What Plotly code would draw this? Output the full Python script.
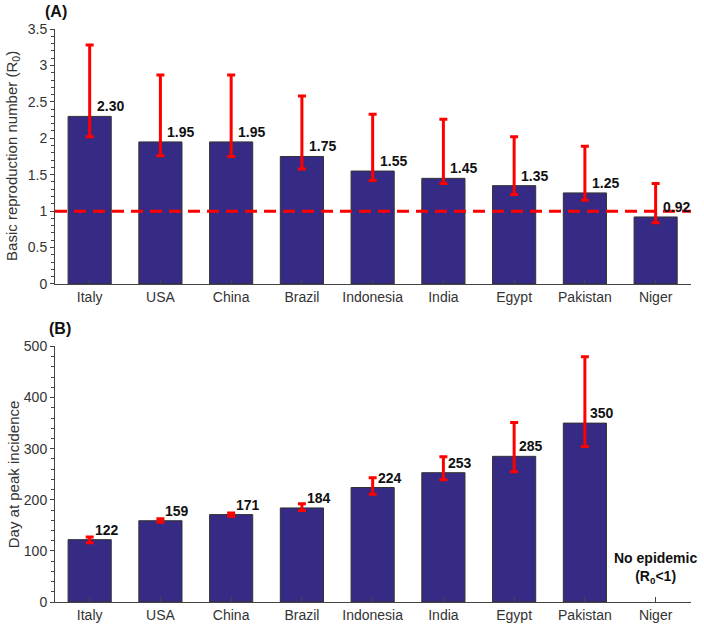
import plotly.graph_objects as go
from plotly.subplots import make_subplots

countries = ["Italy", "USA", "China", "Brazil", "Indonesia", "India", "Egypt", "Pakistan", "Niger"]

r0_values = [2.30, 1.95, 1.95, 1.75, 1.55, 1.45, 1.35, 1.25, 0.92]
r0_lower = [2.02, 1.76, 1.75, 1.58, 1.42, 1.38, 1.23, 1.15, 0.84]
r0_upper = [3.28, 2.87, 2.87, 2.58, 2.33, 2.26, 2.02, 1.89, 1.38]
r0_threshold = 1.0

peak_day = [122, 159, 171, 184, 224, 253, 285, 350, None]
peak_lower = [116, 156, 168, 179, 211, 239, 255, 304, None]
peak_upper = [127, 163, 174, 192, 243, 284, 351, 480, None]

r0_ticks = [0, 0.5, 1, 1.5, 2, 2.5, 3, 3.5]
peak_ticks = [0, 100, 200, 300, 400, 500]

BAR = "#352b84"
RED = "#ff0000"
FONT = "Liberation Sans, Arial, sans-serif"
AX = "#444444"
TXT = "#333333"

fig = make_subplots(rows=2, cols=1, vertical_spacing=0.11)

def diff(a, b):
    return [None if (x is None or y is None) else x - y for x, y in zip(a, b)]

fig.add_trace(go.Bar(
    x=countries, y=r0_values, width=0.61,
    marker=dict(color=BAR, line=dict(color="#333333", width=1)),
    error_y=dict(type="data", symmetric=False,
                 array=diff(r0_upper, r0_values), arrayminus=diff(r0_values, r0_lower),
                 color=RED, thickness=3, width=4),
    showlegend=False, hoverinfo="skip"), row=1, col=1)

fig.add_trace(go.Bar(
    x=countries, y=peak_day, width=0.61,
    marker=dict(color=BAR, line=dict(color="#333333", width=1)),
    error_y=dict(type="data", symmetric=False,
                 array=diff(peak_upper, peak_day), arrayminus=diff(peak_day, peak_lower),
                 color=RED, thickness=3, width=4),
    showlegend=False, hoverinfo="skip"), row=2, col=1)

# threshold line R0 = 1
fig.add_shape(type="line", xref="x domain", yref="y", x0=0, x1=1,
              y0=r0_threshold, y1=r0_threshold,
              line=dict(color=RED, width=3, dash="12px,7px"), layer="above")

annotations = []
for c, v in zip(countries, r0_values):
    annotations.append(dict(x=c, y=v, xref="x", yref="y", text=f"<b>{v:.2f}</b>",
                            showarrow=False, xanchor="left", yanchor="bottom",
                            xshift=5, yshift=0, font=dict(size=14, color="#111111", family=FONT)))
for c, v in zip(countries, peak_day):
    if v is None:
        annotations.append(dict(x=c, y=0, xref="x2", yref="y2",
                                text="<b>No epidemic</b><br><b>(R<sub>0</sub>&lt;1)</b>",
                                showarrow=False, xanchor="center", yanchor="bottom",
                                yshift=14, font=dict(size=14, color="#111111", family=FONT)))
    else:
        annotations.append(dict(x=c, y=v, xref="x2", yref="y2", text=f"<b>{v:d}</b>",
                                showarrow=False, xanchor="left", yanchor="bottom",
                                xshift=3, yshift=0, font=dict(size=14, color="#111111", family=FONT)))

annotations += [
    dict(x=-0.019, y=1.031, xref="paper", yref="paper", text="<b>(A)</b>", showarrow=False,
         xanchor="left", yanchor="middle", font=dict(size=16, color="#111111", family=FONT)),
    dict(x=-0.013, y=0.478, xref="paper", yref="paper", text="<b>(B)</b>", showarrow=False,
         xanchor="left", yanchor="middle", font=dict(size=16, color="#111111", family=FONT)),
    dict(x=-0.068, y=0.778, xref="paper", yref="paper",
         text="Basic reproduction number (R<sub>0</sub>)", textangle=-90, showarrow=False,
         xanchor="center", yanchor="middle", font=dict(size=15, color=TXT, family=FONT)),
    dict(x=-0.066, y=0.223, xref="paper", yref="paper",
         text="Day at peak incidence", textangle=-90, showarrow=False,
         xanchor="center", yanchor="middle", font=dict(size=15, color=TXT, family=FONT)),
]

xcommon = dict(range=[-0.49, 8.5], showline=True, linecolor=AX, linewidth=1,
               ticks="inside", ticklen=5, tickcolor=AX, showgrid=False, zeroline=False,
               automargin=False, tickfont=dict(size=14, color=TXT, family=FONT))

fig.update_layout(
    width=704, height=628,
    margin=dict(l=55, r=13, t=29, b=26, autoexpand=False),
    paper_bgcolor="white", plot_bgcolor="white",
    font=dict(family=FONT, color=TXT),
    annotations=annotations,
    bargap=0.39,
    xaxis=dict(**xcommon, domain=[0, 1]),
    xaxis2=dict(**xcommon, domain=[0, 1]),
    yaxis=dict(domain=[0.555, 1], range=[0, 3.5], tickvals=r0_ticks,
               ticktext=[f"{t:g}" for t in r0_ticks], automargin=False,
               showline=True, linecolor=AX, linewidth=1, ticks="outside", ticklen=4,
               tickcolor=AX, showgrid=False, zeroline=False,
               minor=dict(dtick=0.1, ticks="outside", ticklen=3, tickcolor=AX, showgrid=False),
               tickfont=dict(size=14, color=TXT, family=FONT)),
    yaxis2=dict(domain=[0, 0.446], range=[0, 500], tickvals=peak_ticks, automargin=False,
                showline=True, linecolor=AX, linewidth=1, ticks="outside", ticklen=4,
                tickcolor=AX, showgrid=False, zeroline=False,
                minor=dict(dtick=20, ticks="outside", ticklen=3, tickcolor=AX, showgrid=False),
                tickfont=dict(size=14, color=TXT, family=FONT)),
)

fig.write_html("out.html", config={"displayModeBar": False},
               post_script="document.body.style.margin='0';document.body.style.overflow='hidden';")
